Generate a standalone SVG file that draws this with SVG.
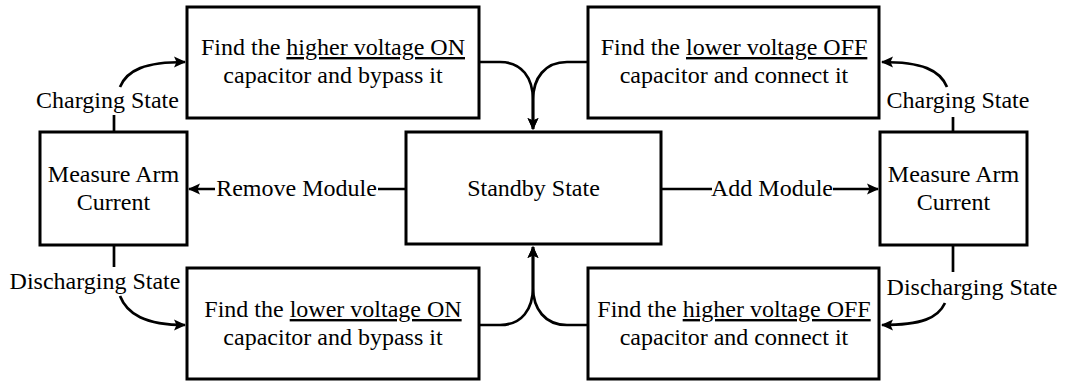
<svg xmlns="http://www.w3.org/2000/svg" width="1066" height="381" viewBox="0 0 1066 381">
<style>
.box{fill:#fff;stroke:#000;stroke-width:3}
.t{font-family:'Liberation Serif','Times New Roman',serif;font-size:24px;fill:#000;text-anchor:middle}
.c{fill:none;stroke:#000;stroke-width:2.7;marker-end:url(#ah)}
.u{text-decoration:underline}
</style>
<defs>
<marker id="ah" markerUnits="userSpaceOnUse" markerWidth="13" markerHeight="12" refX="11" refY="5.5" orient="auto" viewBox="0 0 13 11">
<path d="M0,0 L12,5.5 L0,11 L2.5,5.5 z" fill="#000"/>
</marker>
</defs>
<rect width="1066" height="381" fill="#fff"/>
<g id="connectors">
<path class="c" d="M406,189 H378 M215,189 H189"/>
<path class="c" d="M661,189 H712 M833,189 H878"/>
<path class="c" d="M479,62 L500,62 C522,62 533,78 533,100 L533,129"/>
<path class="c" d="M588,62 L567,62 C545,62 533,78 533,100 L533,129"/>
<path class="c" d="M479,325 L500,325 C522,325 533,309 533,287 L533,247"/>
<path class="c" d="M588,325 L567,325 C545,325 533,309 533,287 L533,247"/>
<path class="c" d="M114,132 V115 M120,87 C127,70 145,62 185,62"/>
<path class="c" d="M953,132 V117 M947,87 C940,70 922,62 882,62"/>
<path class="c" d="M114,245 V267 M120,296 C127,314 145,325 185,325"/>
<path class="c" d="M953,245 V272 M945,303 C938,318 922,325 882,325"/>
<text class="t" x="296.5" y="196">Remove Module</text>
<text class="t" x="772" y="196">Add Module</text>
<text class="t" x="107.5" y="108">Charging State</text>
<text class="t" x="958" y="108">Charging State</text>
<text class="t" x="95" y="289">Discharging State</text>
<text class="t" x="972" y="295">Discharging State</text>
</g>
<g id="find-higher-on">
<rect class="box" x="187" y="7" width="292" height="111"/>
<text class="t" x="333" y="55">Find the <tspan class="u">higher voltage ON</tspan></text>
<text class="t" x="333" y="83">capacitor and bypass it</text>
</g>
<g id="find-lower-off">
<rect class="box" x="588" y="7" width="291" height="111"/>
<text class="t" x="734" y="55">Find the <tspan class="u">lower voltage OFF</tspan></text>
<text class="t" x="734" y="83">capacitor and connect it</text>
</g>
<g id="measure-left">
<rect class="box" x="40" y="132" width="147" height="113"/>
<text class="t" x="113.5" y="182">Measure Arm</text>
<text class="t" x="113.5" y="210">Current</text>
</g>
<g id="standby">
<rect class="box" x="406" y="132" width="255" height="112"/>
<text class="t" x="533.5" y="196">Standby State</text>
</g>
<g id="measure-right">
<rect class="box" x="880" y="132" width="147" height="113"/>
<text class="t" x="953.5" y="182">Measure Arm</text>
<text class="t" x="953.5" y="210">Current</text>
</g>
<g id="find-lower-on">
<rect class="box" x="187" y="268" width="292" height="111"/>
<text class="t" x="333" y="317">Find the <tspan class="u">lower voltage ON</tspan></text>
<text class="t" x="333" y="345">capacitor and bypass it</text>
</g>
<g id="find-higher-off">
<rect class="box" x="588" y="268" width="291" height="111"/>
<text class="t" x="734" y="317">Find the <tspan class="u">higher voltage OFF</tspan></text>
<text class="t" x="734" y="345">capacitor and connect it</text>
</g>
</svg>
